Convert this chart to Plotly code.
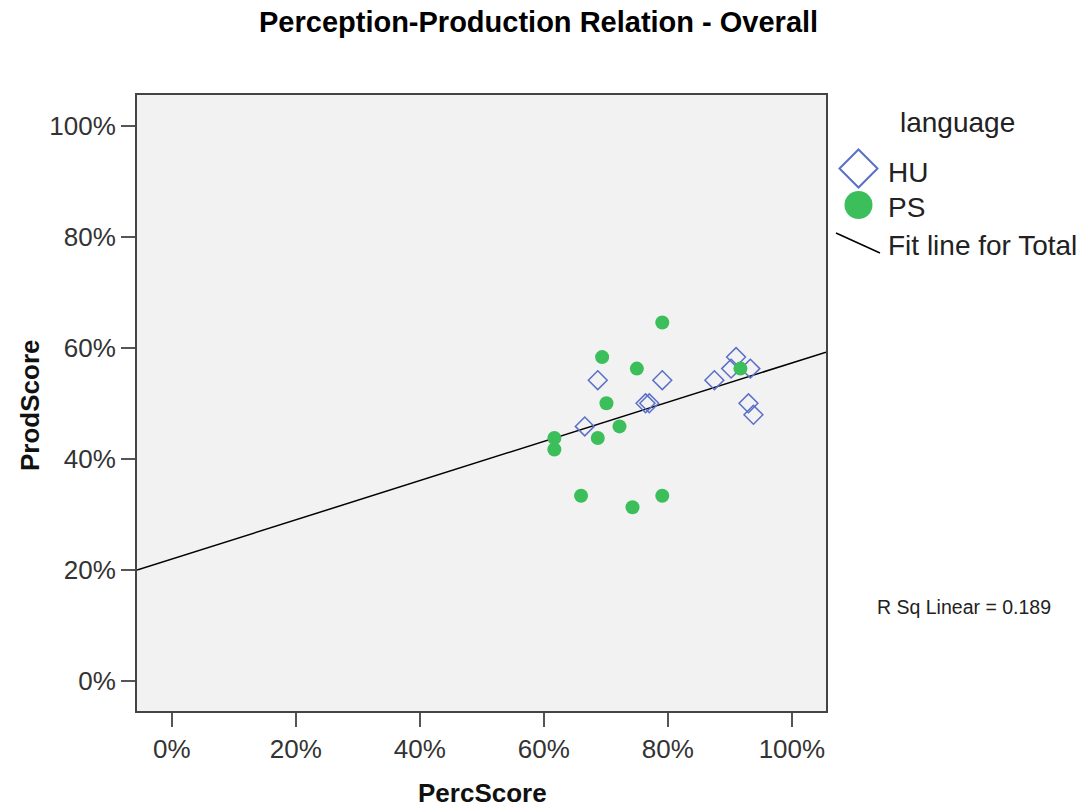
import numpy as np
import plotly.graph_objects as go

# ---- data (proportions in %) ----
hu_perc = [68.7, 79.1, 66.6, 76.4, 77.0, 87.5, 91.0, 90.2, 93.3, 93.0, 93.8]
hu_prod = [54.17, 54.17, 45.83, 50.0, 50.0, 54.17, 58.33, 56.25, 56.25, 50.0, 47.92]
ps_perc = [79.1, 69.4, 75.0, 70.1, 72.2, 68.7, 61.7, 61.7, 66.0, 74.3, 79.1, 91.7]
ps_prod = [64.58, 58.33, 56.25, 50.0, 45.83, 43.75, 43.75, 41.67, 33.33, 31.25, 33.33, 56.25]
tick_vals = [0, 20, 40, 60, 80, 100]
tick_text = ["0%", "20%", "40%", "60%", "80%", "100%"]
x_range = [-5.6, 105.5]
y_range = [-5.5, 105.6]
r2_label = "R Sq Linear = 0.189"

# ---- layout geometry (pixels) ----
W, H = 1090, 808
L, R, T, B = 137, 826, 95, 711


def px(x):
    return (x - L) / (R - L)


def py(y):
    return (B - y) / (B - T)


# fit line from all data
all_x = np.array(hu_perc + ps_perc)
all_y = np.array(hu_prod + ps_prod)
slope, icept = np.polyfit(all_x, all_y, 1)
fit_x = np.array(x_range)
fit_y = icept + slope * fit_x

BLUE = "#5a6fc8"
GREEN = "#3cbf5a"
FONT = "Liberation Sans, Arial, sans-serif"

fig = go.Figure()
fig.add_trace(go.Scatter(x=fit_x, y=fit_y, mode="lines",
                         line=dict(color="black", width=1.5), showlegend=False,
                         hoverinfo="skip"))
fig.add_trace(go.Scatter(x=hu_perc, y=hu_prod, mode="markers", name="HU",
                         marker=dict(symbol="diamond-open", size=14.5, color=BLUE,
                                     line=dict(width=1.5, color=BLUE)),
                         showlegend=False))
fig.add_trace(go.Scatter(x=ps_perc, y=ps_prod, mode="markers", name="PS",
                         marker=dict(symbol="circle", size=14, color=GREEN,
                                     line=dict(width=0)),
                         showlegend=False))

axis_common = dict(
    showgrid=False, zeroline=False, showline=True, mirror=True,
    linecolor="#444444", linewidth=2, ticks="outside", ticklen=14,
    tickwidth=2, tickcolor="#555555", tickvals=tick_vals, ticktext=tick_text,
    tickfont=dict(family=FONT, size=26, color="#333333"),
)
fig.update_xaxes(range=x_range, **axis_common)
fig.update_yaxes(range=y_range, **axis_common)

shapes = [
    # legend: diamond
    dict(type="path", xref="paper", yref="paper",
         path=f"M {px(858.5)},{py(149.5)} L {px(877.5)},{py(168.5)} L {px(858.5)},{py(187.5)} L {px(839.5)},{py(168.5)} Z",
         line=dict(color=BLUE, width=2), fillcolor="white"),
    # legend: circle
    dict(type="circle", xref="paper", yref="paper",
         x0=px(844.5), x1=px(872.5), y0=py(219), y1=py(191),
         line=dict(color=GREEN, width=0), fillcolor=GREEN),
    # legend: fit line
    dict(type="line", xref="paper", yref="paper",
         x0=px(836), y0=py(233), x1=px(880), y1=py(253),
         line=dict(color="black", width=1.5)),
]

annotations = [
    dict(text="<b>Perception-Production Relation - Overall</b>", x=px(538), y=py(22),
         xref="paper", yref="paper", showarrow=False, xanchor="center", yanchor="middle",
         font=dict(family=FONT, size=29, color="black")),
    dict(text="<b>PercScore</b>", x=px(482), y=py(793), xref="paper", yref="paper",
         showarrow=False, xanchor="center", yanchor="middle",
         font=dict(family=FONT, size=26, color="#111111")),
    dict(text="<b>ProdScore</b>", x=px(30), y=py(405), xref="paper", yref="paper",
         showarrow=False, xanchor="center", yanchor="middle", textangle=-90,
         font=dict(family=FONT, size=26, color="#111111")),
    dict(text="language", x=px(957), y=py(123), xref="paper", yref="paper",
         showarrow=False, xanchor="center", yanchor="middle",
         font=dict(family=FONT, size=28, color="#222222")),
    dict(text="HU", x=px(886), y=py(172), xref="paper", yref="paper",
         showarrow=False, xanchor="left", yanchor="middle",
         font=dict(family=FONT, size=28, color="#222222")),
    dict(text="PS", x=px(886), y=py(208), xref="paper", yref="paper",
         showarrow=False, xanchor="left", yanchor="middle",
         font=dict(family=FONT, size=28, color="#222222")),
    dict(text="Fit line for Total", x=px(886), y=py(246), xref="paper", yref="paper",
         showarrow=False, xanchor="left", yanchor="middle",
         font=dict(family=FONT, size=28, color="#222222")),
    dict(text=r2_label, x=px(875), y=py(607), xref="paper", yref="paper",
         showarrow=False, xanchor="left", yanchor="middle",
         font=dict(family=FONT, size=19.5, color="#222222")),
]

fig.update_layout(
    width=W, height=H,
    margin=dict(l=L, r=W - R, t=T, b=H - B, pad=0),
    paper_bgcolor="white", plot_bgcolor="#f2f2f2",
    shapes=shapes, annotations=annotations, showlegend=False,
)

fig.write_html("out.html", config={"displayModeBar": False})
